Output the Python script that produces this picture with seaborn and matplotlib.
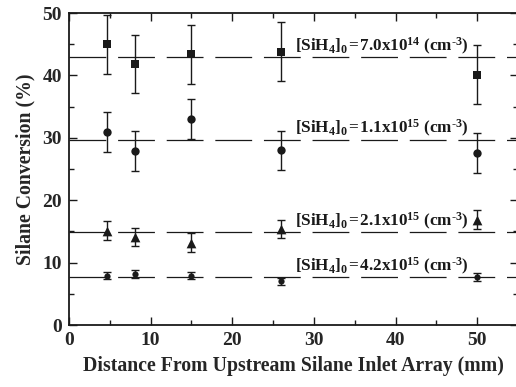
import numpy as np
import pandas as pd
import matplotlib
matplotlib.use("Agg")
import matplotlib.pyplot as plt
import seaborn as sns

# ---- data ----
distance = [4.6, 8.1, 15.0, 26.0, 50.0]
conv_7e14 = [45.0, 41.8, 43.4, 43.8, 40.1]
err_7e14 = [4.7, 4.7, 4.7, 4.7, 4.7]
conv_1e15 = [31.0, 27.9, 33.0, 28.0, 27.6]
err_1e15 = [3.2, 3.2, 3.2, 3.1, 3.2]
conv_2e15 = [15.1, 14.1, 13.2, 15.4, 16.9]
err_2e15 = [1.5, 1.4, 1.5, 1.5, 1.5]
conv_4e15 = [7.9, 8.2, 7.9, 7.0, 7.7]
err_4e15 = [0.6, 0.6, 0.6, 0.6, 0.6]
mean_levels = [42.9, 29.6, 14.9, 7.75]
series_labels = [
    "[SiH$_4$]$_0$\u200a=\u200a7.0x10$^{14}$ (cm$^{\u2010 3}$)",
    "[SiH$_4$]$_0$\u200a=\u200a1.1x10$^{15}$ (cm$^{\u2010 3}$)",
    "[SiH$_4$]$_0$\u200a=\u200a2.1x10$^{15}$ (cm$^{\u2010 3}$)",
    "[SiH$_4$]$_0$\u200a=\u200a4.2x10$^{15}$ (cm$^{\u2010 3}$)",
]
label_y = [43.9, 30.7, 15.9, 8.7]
x_ticks = [0, 10, 20, 30, 40, 50]
y_ticks = [0, 10, 20, 30, 40, 50]

sns.set_style("ticks")
plt.rcParams["font.family"] = ["Liberation Serif", "DejaVu Serif"]
plt.rcParams["font.weight"] = "bold"
plt.rcParams["mathtext.fontset"] = "custom"
plt.rcParams["mathtext.rm"] = "Liberation Serif:bold"
plt.rcParams["mathtext.it"] = "Liberation Serif:bold"
plt.rcParams["mathtext.bf"] = "Liberation Serif:bold"
plt.rcParams["mathtext.default"] = "rm"
plt.rcParams["lines.scale_dashes"] = False

series = [
    (conv_7e14, err_7e14, "s", 5.5),
    (conv_1e15, err_1e15, "o", 6.0),
    (conv_2e15, err_2e15, "^", 7.0),
    (conv_4e15, err_4e15, "o", 4.5),
]

rows = []
for i, (vals, errs, m, ms) in enumerate(series):
    for d, v, e in zip(distance, vals, errs):
        rows.append({"distance": d, "conv": v, "err": e, "series": series_labels[i]})
df = pd.DataFrame(rows)

fig = plt.figure(figsize=(5.16, 3.87), dpi=100)
ax = fig.add_axes([69 / 516, 1 - 325 / 387, (518 - 69) / 516, (325 - 13) / 387])

dash = (0, (26.5, 8.5))
for lvl in mean_levels:
    ax.axhline(lvl, color="#1a1a1a", lw=0.9, ls=dash, zorder=1)

for i, (vals, errs, m, ms) in enumerate(series):
    sub = df[df["series"] == series_labels[i]]
    ax.errorbar(sub["distance"], sub["conv"], yerr=sub["err"], fmt="none",
                ecolor="#1a1a1a", elinewidth=1.0, capsize=3.2, capthick=1.0, zorder=2)
    sns.scatterplot(data=sub, x="distance", y="conv", marker=m, s=ms ** 2,
                    color="#1a1a1a", edgecolor="#1a1a1a", linewidth=0, ax=ax,
                    legend=False, zorder=3)

for lab, ly in zip(series_labels, label_y):
    ax.text(38.3, ly, lab, ha="center", va="baseline", fontsize=12.3,
            fontweight="bold", color="#1a1a1a")

ax.set_xlim(0, 55)
ax.set_ylim(0, 50)
ax.set_xticks(x_ticks)
ax.set_yticks(y_ticks)
ax.set_xticks(np.arange(5, 55, 10), minor=True)
ax.set_yticks(np.arange(5, 50, 10), minor=True)
ax.tick_params(which="both", direction="in", top=True, right=True, width=1.0,
               color="#1a1a1a")
ax.tick_params(which="major", length=6, labelsize=14, pad=5)
ax.tick_params(which="minor", length=3.5)
for t in ax.get_xticklabels() + ax.get_yticklabels():
    t.set_fontweight("bold")
for sp in ax.spines.values():
    sp.set_visible(True)
    sp.set_linewidth(1.3)
    sp.set_color("#1a1a1a")

ax.set_xlabel("Distance From Upstream Silane Inlet Array (mm)", fontsize=14.2,
              fontweight="bold", labelpad=5)
ax.set_ylabel("Silane Conversion (%)", fontsize=14.2, fontweight="bold", labelpad=5)

fig.savefig("out.png", dpi=100)
